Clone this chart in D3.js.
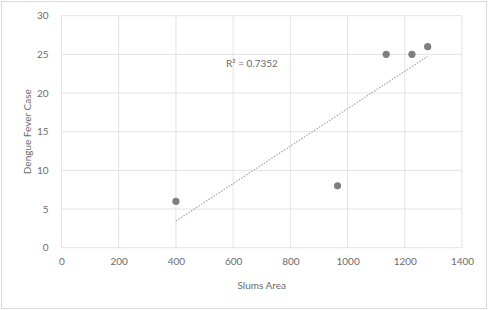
<!DOCTYPE html>
<html>
<head>
<meta charset="utf-8">
<script src="https://cdn.jsdelivr.net/npm/d3@7"></script>
<style>
  body { margin: 0; background: #fff; }
  text { font-family: Lato, "Open Sans", sans-serif; fill: #6b6b6b; }
</style>
</head>
<body>
<div id="chart"></div>
<script>
// slums area vs dengue cases
var slumsArea = [400, 965, 1135, 1225, 1280];
var dengueCases = [6, 8, 25, 25, 26];
var xTicks = [0, 200, 400, 600, 800, 1000, 1200, 1400];
var yTicks = [0, 5, 10, 15, 20, 25, 30];
var r2Label = "R\u00b2 = 0.7352";

var width = 488, height = 310;
var margin = {left: 61.5, right: 26, top: 15.7, bottom: 62.3};

var svg = d3.select("#chart").append("svg")
  .attr("width", width)
  .attr("height", height);

// chart frame
svg.append("rect")
  .attr("x", 1.5).attr("y", 1.5)
  .attr("width", width - 3).attr("height", height - 3)
  .attr("fill", "#fff")
  .attr("stroke", "#d9d9d9");

var x = d3.scaleLinear().domain([0, 1400]).range([margin.left, width - margin.right]);
var y = d3.scaleLinear().domain([0, 30]).range([height - margin.bottom, margin.top]);

// gridlines
svg.append("g").selectAll("line").data(yTicks).enter().append("line")
  .attr("x1", x(0)).attr("x2", x(1400))
  .attr("y1", d => y(d)).attr("y2", d => y(d))
  .attr("stroke", "#e3e3e3");
svg.append("g").selectAll("line").data(xTicks).enter().append("line")
  .attr("y1", y(0)).attr("y2", y(30))
  .attr("x1", d => x(d)).attr("x2", d => x(d))
  .attr("stroke", "#e3e3e3");

// axis labels
var xAxis = svg.append("g")
  .attr("transform", "translate(0," + (y(0) + 7) + ")")
  .call(d3.axisBottom(x).tickValues(xTicks).tickSize(0).tickFormat(d3.format("d")));
xAxis.select(".domain").remove();
xAxis.selectAll("text").attr("font-size", 10);

var yAxis = svg.append("g")
  .attr("transform", "translate(" + (x(0) - 10) + ",0)")
  .call(d3.axisLeft(y).tickValues(yTicks).tickSize(0).tickFormat(d3.format("d")));
yAxis.select(".domain").remove();
yAxis.selectAll("text").attr("font-size", 10);

svg.append("text")
  .attr("x", (x(0) + x(1400)) / 2).attr("y", 289)
  .attr("text-anchor", "middle").attr("font-size", 10)
  .text("Slums Area");

svg.append("text")
  .attr("transform", "translate(31," + ((y(0) + y(30)) / 2) + ") rotate(-90)")
  .attr("text-anchor", "middle").attr("font-size", 10)
  .text("Dengue Fever Case");

// linear trendline
var mx = d3.mean(slumsArea), my = d3.mean(dengueCases);
var sxy = d3.sum(slumsArea, (v, i) => (v - mx) * (dengueCases[i] - my));
var sxx = d3.sum(slumsArea, v => (v - mx) * (v - mx));
var slope = sxy / sxx, icpt = my - slope * mx;
var xExt = d3.extent(slumsArea);

svg.append("line")
  .attr("x1", x(xExt[0])).attr("y1", y(icpt + slope * xExt[0]))
  .attr("x2", x(xExt[1])).attr("y2", y(icpt + slope * xExt[1]))
  .attr("stroke", "#a6a6a6")
  .attr("stroke-width", 1.2)
  .attr("stroke-dasharray", "1.5,1.5");

svg.append("text")
  .attr("x", 226).attr("y", 67)
  .attr("font-size", 10)
  .text(r2Label);

// points
svg.append("g").selectAll("circle")
  .data(slumsArea).enter().append("circle")
  .attr("cx", d => x(d))
  .attr("cy", (d, i) => y(dengueCases[i]))
  .attr("r", 3.6)
  .attr("fill", "#7f7f7f");
</script>
</body>
</html>
